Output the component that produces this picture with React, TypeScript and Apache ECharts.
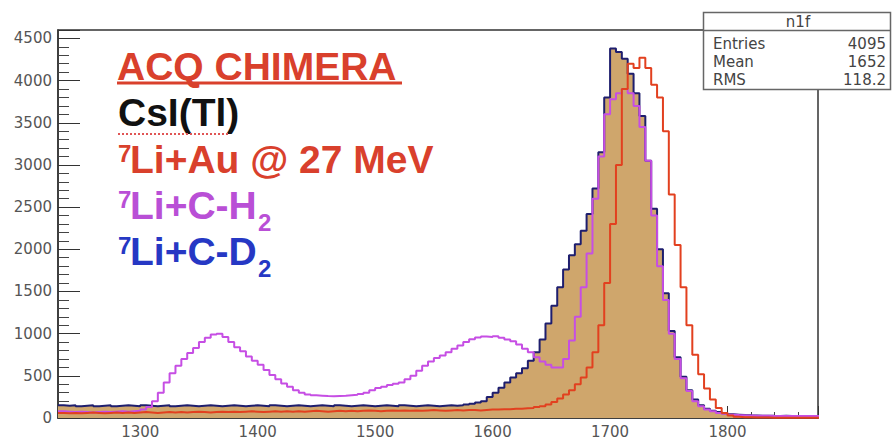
import React, { useEffect, useRef } from "react";
import * as echarts from "echarts";

// Histogram binning (channel axis)
const BIN_LO = 1230;
const BIN_W = 5;

// 7Li+C-D2 (filled tan, navy outline) — 130 bins from 1230
const d2Counts = [
  150, 145, 150, 140, 145, 150, 140, 145, 150, 140,
  145, 150, 145, 140, 150, 145, 140, 145, 150, 140,
  145, 150, 145, 140, 145, 150, 145, 140, 145, 150,
  145, 140, 145, 150, 145, 140, 150, 145, 140, 145,
  150, 145, 140, 145, 150, 145, 140, 150, 145, 140,
  145, 150, 145, 140, 145, 150, 145, 140, 150, 145,
  140, 145, 150, 145, 140, 145, 150, 145, 150, 160,
  170, 185, 200, 250, 300, 360, 420, 480, 530, 590,
  680, 780, 930, 1120, 1330, 1550, 1760, 1930, 2060, 2220,
  2420, 2720, 3150, 3800, 4380, 4340, 4260, 4080, 3850, 3580,
  3050, 2480, 2000, 1480, 1030, 720, 490, 330, 220, 150,
  110, 85, 70, 55, 45, 40, 35, 32, 30, 28,
  28, 26, 25, 26, 25, 24, 25, 24, 25, 24,
];

// 7Li+C-H2 (magenta)
const h2Counts = [
  80, 75, 70, 75, 70, 65, 70, 75, 70, 75,
  80, 75, 80, 85, 100, 130, 200, 300, 420, 530,
  620, 700, 770, 830, 900, 950, 990, 1000, 960, 900,
  840, 790, 730, 680, 630, 570, 510, 460, 410, 370,
  330, 300, 280, 270, 265, 260, 258, 262, 265, 270,
  275, 285, 300, 330, 355, 370, 390, 405, 420, 460,
  500, 560, 620, 670, 710, 740, 780, 820, 860, 900,
  935, 955, 965, 960, 970, 950, 930, 910, 870, 820,
  780, 720, 670, 630, 600, 600, 700, 920, 1200, 1550,
  1950, 2600, 3100, 3600, 3780, 3850, 3900, 3850, 3700, 3450,
  3050, 2400, 1800, 1400, 1000, 700, 470, 320, 200, 140,
  100, 80, 60, 50, 40, 35, 32, 30, 28, 27,
  26, 25, 25, 24, 25, 24, 25, 24, 25, 24,
];

// 7Li+Au @ 27 MeV (red)
const auCounts = [
  60, 55, 60, 55, 60, 65, 60, 55, 60, 65,
  60, 65, 60, 65, 70, 65, 60, 65, 70, 65,
  70, 65, 70, 75, 70, 65, 70, 75, 70, 75,
  70, 75, 80, 75, 70, 75, 80, 75, 80, 75,
  80, 75, 80, 85, 80, 75, 80, 85, 80, 85,
  80, 85, 90, 85, 80, 85, 90, 85, 90, 85,
  90, 85, 90, 95, 90, 85, 90, 95, 90, 95,
  95, 90, 95, 100, 100, 105, 105, 110, 110, 115,
  120, 130, 140, 160, 190, 230, 280, 330, 400, 480,
  600, 780, 1100, 1600, 2300, 3000, 3900, 4200, 4150, 4270,
  4150, 3950, 3800, 3400, 2650, 2050, 1550, 1100, 750, 520,
  350, 220, 120, 60, 30, 15, 10, 8, 6, 5,
  5, 4, 4, 3, 3, 3, 2, 2, 2, 2,
];

const statsTitle = "n1f";
const statsLabels = ["Entries", "Mean", "RMS"];
const statsValues = ["4095", "1652", "118.2"];

function toSteps(counts: number[]): number[][] {
  const pts = counts.map((c, i) => [BIN_LO + i * BIN_W, c]);
  pts.push([BIN_LO + counts.length * BIN_W, counts[counts.length - 1]]);
  return pts;
}

const BOLD = '"Liberation Sans", Arial, sans-serif';
const RED = "#d9402c";
const PURPLE = "#b94fd6";
const BLUE = "#2638c4";

export default function App() {
  const ref = useRef<HTMLDivElement>(null);
  useEffect(() => {
    if (!ref.current) return;
    const chart = echarts.init(ref.current, undefined, { renderer: "svg" });
    const labelStyle = {
      fontFamily: '"DejaVu Sans", sans-serif',
      fontSize: 15,
      color: "#555",
      formatter: (v: number) => String(v),
    };
    const statsText: any[] = [];
    statsLabels.forEach((l, i) => {
      statsText.push({
        type: "text",
        x: 713,
        y: 44 + i * 18,
        z: 102,
        style: { text: l, font: '15px "DejaVu Sans", sans-serif', fill: "#444", verticalAlign: "middle", align: "left" },
      });
      statsText.push({
        type: "text",
        x: 886,
        y: 44 + i * 18,
        z: 102,
        style: { text: statsValues[i], font: '15px "DejaVu Sans", sans-serif', fill: "#444", verticalAlign: "middle", align: "right" },
      });
    });
    const bigText = (text: string, x: number, y: number, fill: string, size = 39) => ({
      type: "text",
      x,
      y,
      z: 100,
      style: { text, font: `bold ${size}px ${BOLD}`, fill, verticalAlign: "middle", align: "left" },
    });
    chart.setOption({
      animation: false,
      backgroundColor: "#fff",
      grid: {
        left: 58,
        right: 75,
        top: 30,
        bottom: 19,
        show: true,
        borderColor: "#333",
        borderWidth: 1.5,
        backgroundColor: "#fff",
      },
      xAxis: {
        type: "value",
        min: 1230,
        max: 1877,
        splitNumber: 6,
        axisLine: { lineStyle: { color: "#333", width: 1.5 } },
        axisTick: { inside: true, length: 12, lineStyle: { color: "#333" } },
        minorTick: { show: true, splitNumber: 5, length: 6, lineStyle: { color: "#444" } },
        splitLine: { show: false },
        axisLabel: { ...labelStyle, margin: 6, showMinLabel: false, showMaxLabel: false },
      },
      yAxis: {
        type: "value",
        min: 0,
        max: 4600,
        interval: 500,
        axisLine: { show: true, lineStyle: { color: "#333", width: 1.5 } },
        axisTick: { show: true, inside: true, length: 22, lineStyle: { color: "#333" } },
        minorTick: { show: true, splitNumber: 5, length: 11, lineStyle: { color: "#444" } },
        splitLine: { show: false },
        axisLabel: { ...labelStyle, margin: 6, showMaxLabel: false },
      },
      series: [
        {
          name: "7Li+C-D2",
          type: "line",
          step: "end",
          data: toSteps(d2Counts),
          symbol: "none",
          lineStyle: { color: "#1e1e6e", width: 2 },
          areaStyle: { color: "#cfa66c", opacity: 1 },
          z: 2,
        },
        {
          name: "7Li+C-H2",
          type: "line",
          step: "end",
          data: toSteps(h2Counts),
          symbol: "none",
          lineStyle: { color: "#c64ee4", width: 2 },
          z: 3,
        },
        {
          name: "7Li+Au",
          type: "line",
          step: "end",
          data: toSteps(auCounts),
          symbol: "none",
          lineStyle: { color: "#e2401f", width: 2 },
          z: 4,
        },
      ],
      graphic: [
        bigText("ACQ CHIMERA", 117, 66, RED),
        { type: "line", z: 100, shape: { x1: 117, y1: 83, x2: 402, y2: 83 }, style: { stroke: RED, lineWidth: 3 } },
        bigText("CsI(Tl)", 118, 112, "#111"),
        { type: "line", z: 100, shape: { x1: 118, y1: 134, x2: 228, y2: 134 }, style: { stroke: "#e05555", lineWidth: 2, lineDash: [2, 2] } },
        bigText("7", 118, 153, RED, 24),
        bigText("Li+Au @ 27 MeV", 130, 159, RED),
        bigText("7", 118, 199, PURPLE, 24),
        bigText("Li+C-H", 130, 205, PURPLE),
        bigText("2", 258, 222, PURPLE, 24),
        bigText("7", 118, 245, BLUE, 24),
        bigText("Li+C-D", 130, 251, BLUE),
        bigText("2", 258, 268, BLUE, 24),
        {
          type: "rect",
          z: 101,
          shape: { x: 703.5, y: 12.5, width: 187, height: 77 },
          style: { fill: "#fff", stroke: "#666", lineWidth: 1.5 },
        },
        { type: "line", z: 102, shape: { x1: 703.5, y1: 30.5, x2: 890.5, y2: 30.5 }, style: { stroke: "#666", lineWidth: 1.5 } },
        {
          type: "text",
          x: 798,
          y: 22,
          z: 102,
          style: { text: statsTitle, font: '15px "DejaVu Sans", sans-serif', fill: "#444", verticalAlign: "middle", align: "center" },
        },
        ...statsText,
      ],
    });
    return () => chart.dispose();
  }, []);
  return <div ref={ref} style={{ position: "fixed", left: 0, top: 0, width: 893, height: 439 }} />;
}
